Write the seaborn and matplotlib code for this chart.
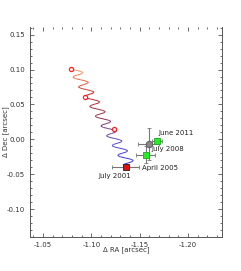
import numpy as np
import pandas as pd
import seaborn as sns
import matplotlib.pyplot as plt
from matplotlib.collections import LineCollection
from matplotlib.colors import LinearSegmentedColormap
from matplotlib.ticker import MultipleLocator

# predicted path (proper motion + parallax), 2001.5 -> 2011.5
wave_x = [-1.1356, -1.1330, -1.1341, -1.1381, -1.1421, -1.1433, -1.1406, -1.1352,
          -1.1298, -1.1272, -1.1283, -1.1323, -1.1363, -1.1375, -1.1348, -1.1294,
          -1.1240, -1.1214, -1.1225, -1.1265, -1.1305, -1.1317, -1.1290, -1.1236,
          -1.1182, -1.1156, -1.1167, -1.1207, -1.1247, -1.1259, -1.1232, -1.1178,
          -1.1124, -1.1098, -1.1109, -1.1149, -1.1189, -1.1201, -1.1174, -1.1120,
          -1.1066, -1.1040, -1.1051, -1.1091, -1.1131, -1.1143, -1.1116, -1.1062,
          -1.1008, -1.0982, -1.0993, -1.1033, -1.1073, -1.1085, -1.1058, -1.1004,
          -1.0950, -1.0924, -1.0935, -1.0975, -1.1015, -1.1027, -1.1000, -1.0946,
          -1.0892, -1.0866, -1.0877, -1.0917, -1.0957, -1.0969, -1.0942, -1.0888,
          -1.0834, -1.0808, -1.0819, -1.0859, -1.0899, -1.0911, -1.0884, -1.0830,
          -1.0776]
wave_y = [-0.0390, -0.0373, -0.0355, -0.0338, -0.0320, -0.0303, -0.0285, -0.0268,
          -0.0250, -0.0233, -0.0215, -0.0198, -0.0180, -0.0163, -0.0145, -0.0128,
          -0.0110, -0.0093, -0.0075, -0.0058, -0.0040, -0.0023, -0.0005, 0.0013,
          0.0030, 0.0048, 0.0065, 0.0083, 0.0100, 0.0118, 0.0135, 0.0153,
          0.0170, 0.0188, 0.0205, 0.0223, 0.0240, 0.0258, 0.0275, 0.0293,
          0.0310, 0.0328, 0.0345, 0.0363, 0.0380, 0.0398, 0.0415, 0.0433,
          0.0450, 0.0468, 0.0485, 0.0503, 0.0520, 0.0538, 0.0555, 0.0573,
          0.0590, 0.0608, 0.0625, 0.0643, 0.0660, 0.0678, 0.0695, 0.0713,
          0.0730, 0.0748, 0.0765, 0.0783, 0.0800, 0.0818, 0.0835, 0.0853,
          0.0870, 0.0888, 0.0905, 0.0923, 0.0940, 0.0958, 0.0975, 0.0993,
          0.1010]

# predicted positions at the observing epochs
pred_x = [-1.1230, -1.0930, -1.0784]
pred_y = [0.0150, 0.0600, 0.1010]

# observations
epochs = ["July 2001", "April 2005", "July 2008", "June 2011"]
obs_x = [-1.1356, -1.1560, -1.1594, -1.1680]
obs_y = [-0.0390, -0.0220, -0.0066, -0.0020]
obs_xerr = [0.014, 0.010, 0.011, 0.005]
obs_yerr = [0.004, 0.012, 0.023, 0.004]
obs_color = ["#e01010", "#22ee22", "#888888", "#22ee22"]
obs_edge = ["#222222", "#22aa22", "#555555", "#22aa22"]
obs_marker = ["s", "s", "o", "s"]

label_x = [-1.1242, -1.1522, -1.1625, -1.1690]
label_y = [-0.0524, -0.0410, -0.0138, 0.0092]
label_ha = ["center", "left", "left", "left"]

sns.set_style("ticks")
plt.rcParams["font.family"] = ["DejaVu Sans"]
fig = plt.figure(figsize=(2.41, 2.71), dpi=100)
ax = fig.add_axes([0.1245, 0.1255, 0.7965, 0.775])

cmap = LinearSegmentedColormap.from_list(
    "path", ["#2a2aff", "#5a48d0", "#8a3048", "#d42424", "#ff9a60"])
pts = np.column_stack([wave_x, wave_y]).reshape(-1, 1, 2)
segs = np.concatenate([pts[:-1], pts[1:]], axis=1)
lc = LineCollection(segs, cmap=cmap, linewidth=0.7)
lc.set_array(np.linspace(0, 1, len(segs)))
ax.add_collection(lc)

sns.scatterplot(x=pred_x, y=pred_y, ax=ax, marker="o", s=9,
                facecolor="white", edgecolor="#ff2020", linewidth=0.9, zorder=4)

df = pd.DataFrame({"x": obs_x, "y": obs_y, "xerr": obs_xerr, "yerr": obs_yerr})
for i, row in df.iterrows():
    ax.errorbar(row.x, row.y, xerr=row.xerr, yerr=row.yerr, fmt="none",
                ecolor="#777777", elinewidth=0.8, capsize=1.5, capthick=0.6, zorder=3)
    ax.scatter(row.x, row.y, marker=obs_marker[i], s=22, color=obs_color[i],
               edgecolor=obs_edge[i], linewidth=0.6, zorder=5)
    ax.text(label_x[i], label_y[i], epochs[i], ha=label_ha[i], va="center",
            fontsize=5, color="#222222")

ax.set_xlim(-1.0365, -1.235)
ax.set_ylim(-0.14, 0.161)
ax.xaxis.set_major_locator(MultipleLocator(0.05))
ax.xaxis.set_minor_locator(MultipleLocator(0.01))
ax.yaxis.set_major_locator(MultipleLocator(0.05))
ax.yaxis.set_minor_locator(MultipleLocator(0.01))
ax.tick_params(which="both", direction="in", top=True, right=True,
               colors="#555555", labelcolor="#333333", labelsize=5, width=0.6)
ax.tick_params(which="major", length=3)
ax.tick_params(which="minor", length=1.5)
ax.set_xticklabels([f"{v:.2f}" for v in ax.get_xticks()])
ax.set_yticklabels([f"{v:.2f}" for v in ax.get_yticks()])
for side in ["left", "bottom", "right"]:
    ax.spines[side].set_color("#555555")
    ax.spines[side].set_linewidth(0.7)
ax.spines["top"].set_visible(False)
ax.set_xlabel("Δ RA [arcsec]", fontsize=5, color="#333333")
ax.set_ylabel("Δ Dec [arcsec]", fontsize=5, color="#333333")
ax.xaxis.set_label_coords(0.5, -0.062)
ax.yaxis.set_label_coords(-0.125, 0.5)
ax.xaxis.label.set_va("center")
ax.yaxis.label.set_va("center")

fig.savefig("out.png", dpi=100)
